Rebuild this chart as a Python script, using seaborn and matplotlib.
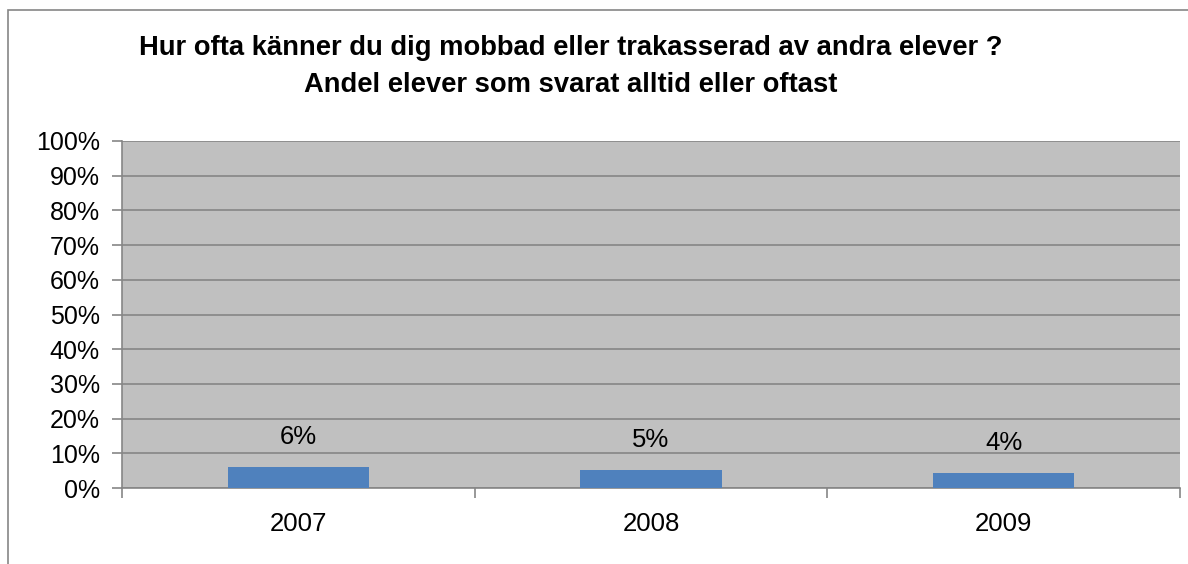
import matplotlib
matplotlib.use("Agg")
import matplotlib.pyplot as plt
import seaborn as sns
import pandas as pd
from matplotlib.patches import Rectangle
from matplotlib.ticker import FuncFormatter, MultipleLocator

years = ["2007", "2008", "2009"]
values = [6.0, 5.3, 4.3]
labels = ["6%", "5%", "4%"]
title_lines = ["Hur ofta känner du dig mobbad eller trakasserad av andra elever ?",
               "Andel elever som svarat alltid eller oftast"]

sns.set_style("white")
plt.rcParams['font.family'] = ['Liberation Sans', 'DejaVu Sans']
plt.rcParams['text.color'] = 'black'
plt.rcParams['xtick.color'] = 'black'
plt.rcParams['ytick.color'] = 'black'

W, H = 1188, 564
fig = plt.figure(figsize=(W / 100, H / 100), dpi=100)
L, R, T, B = 122, 1180, 141, 488
ax = fig.add_axes([L / W, 1 - B / H, (R - L) / W, (B - T) / H])

df = pd.DataFrame({"year": years, "value": values})
sns.barplot(data=df, x="year", y="value", color="#4F81BD", width=0.4,
            saturation=1, ax=ax, zorder=3, edgecolor="none", linewidth=0)

ax.set_facecolor("#C0C0C0")
ax.set_ylim(0, 100)
ax.set_xlim(-0.5, 2.5)
ax.yaxis.set_major_locator(MultipleLocator(10))
ax.yaxis.set_major_formatter(FuncFormatter(lambda v, p: f"{int(v)}%"))
ax.grid(axis="y", color="#868686", linewidth=1.2, zorder=1)
ax.set_axisbelow(True)
for s in ["top", "right"]:
    ax.spines[s].set_visible(False)
for s in ["left", "bottom"]:
    ax.spines[s].set_color("#868686")
    ax.spines[s].set_linewidth(1.2)
ax.set_xlabel("")
ax.set_ylabel("")
ax.tick_params(axis="y", length=7, width=1.2, color="#868686", labelcolor="black",
               labelsize=18, pad=9, left=True)
ax.tick_params(axis="x", which="major", length=0, labelsize=18.5, labelcolor="black", pad=17)
ax.set_xticks([-0.5, 0.5, 1.5, 2.5], minor=True)
ax.tick_params(axis="x", which="minor", length=7, width=1.2, color="#868686", bottom=True)

for i, (v, lab) in enumerate(zip(values, labels)):
    ax.annotate(lab, xy=(i, v), xytext=(0, 21.5), textcoords="offset points",
                ha="center", va="center", fontsize=18.5, color="black")

fig.text(571 / W, 1 - 48 / H, title_lines[0], ha="center", va="center",
         fontsize=19.7, fontweight="bold", color="black")
fig.text(571 / W, 1 - 85 / H, title_lines[1], ha="center", va="center",
         fontsize=19.7, fontweight="bold", color="black")

fig.patches.append(Rectangle((8 / W, -0.1), 1.2, 1 - 10 / H + 0.1, transform=fig.transFigure,
                             fill=False, edgecolor="#868686", linewidth=1.2))

fig.savefig("out.png", dpi=100)
